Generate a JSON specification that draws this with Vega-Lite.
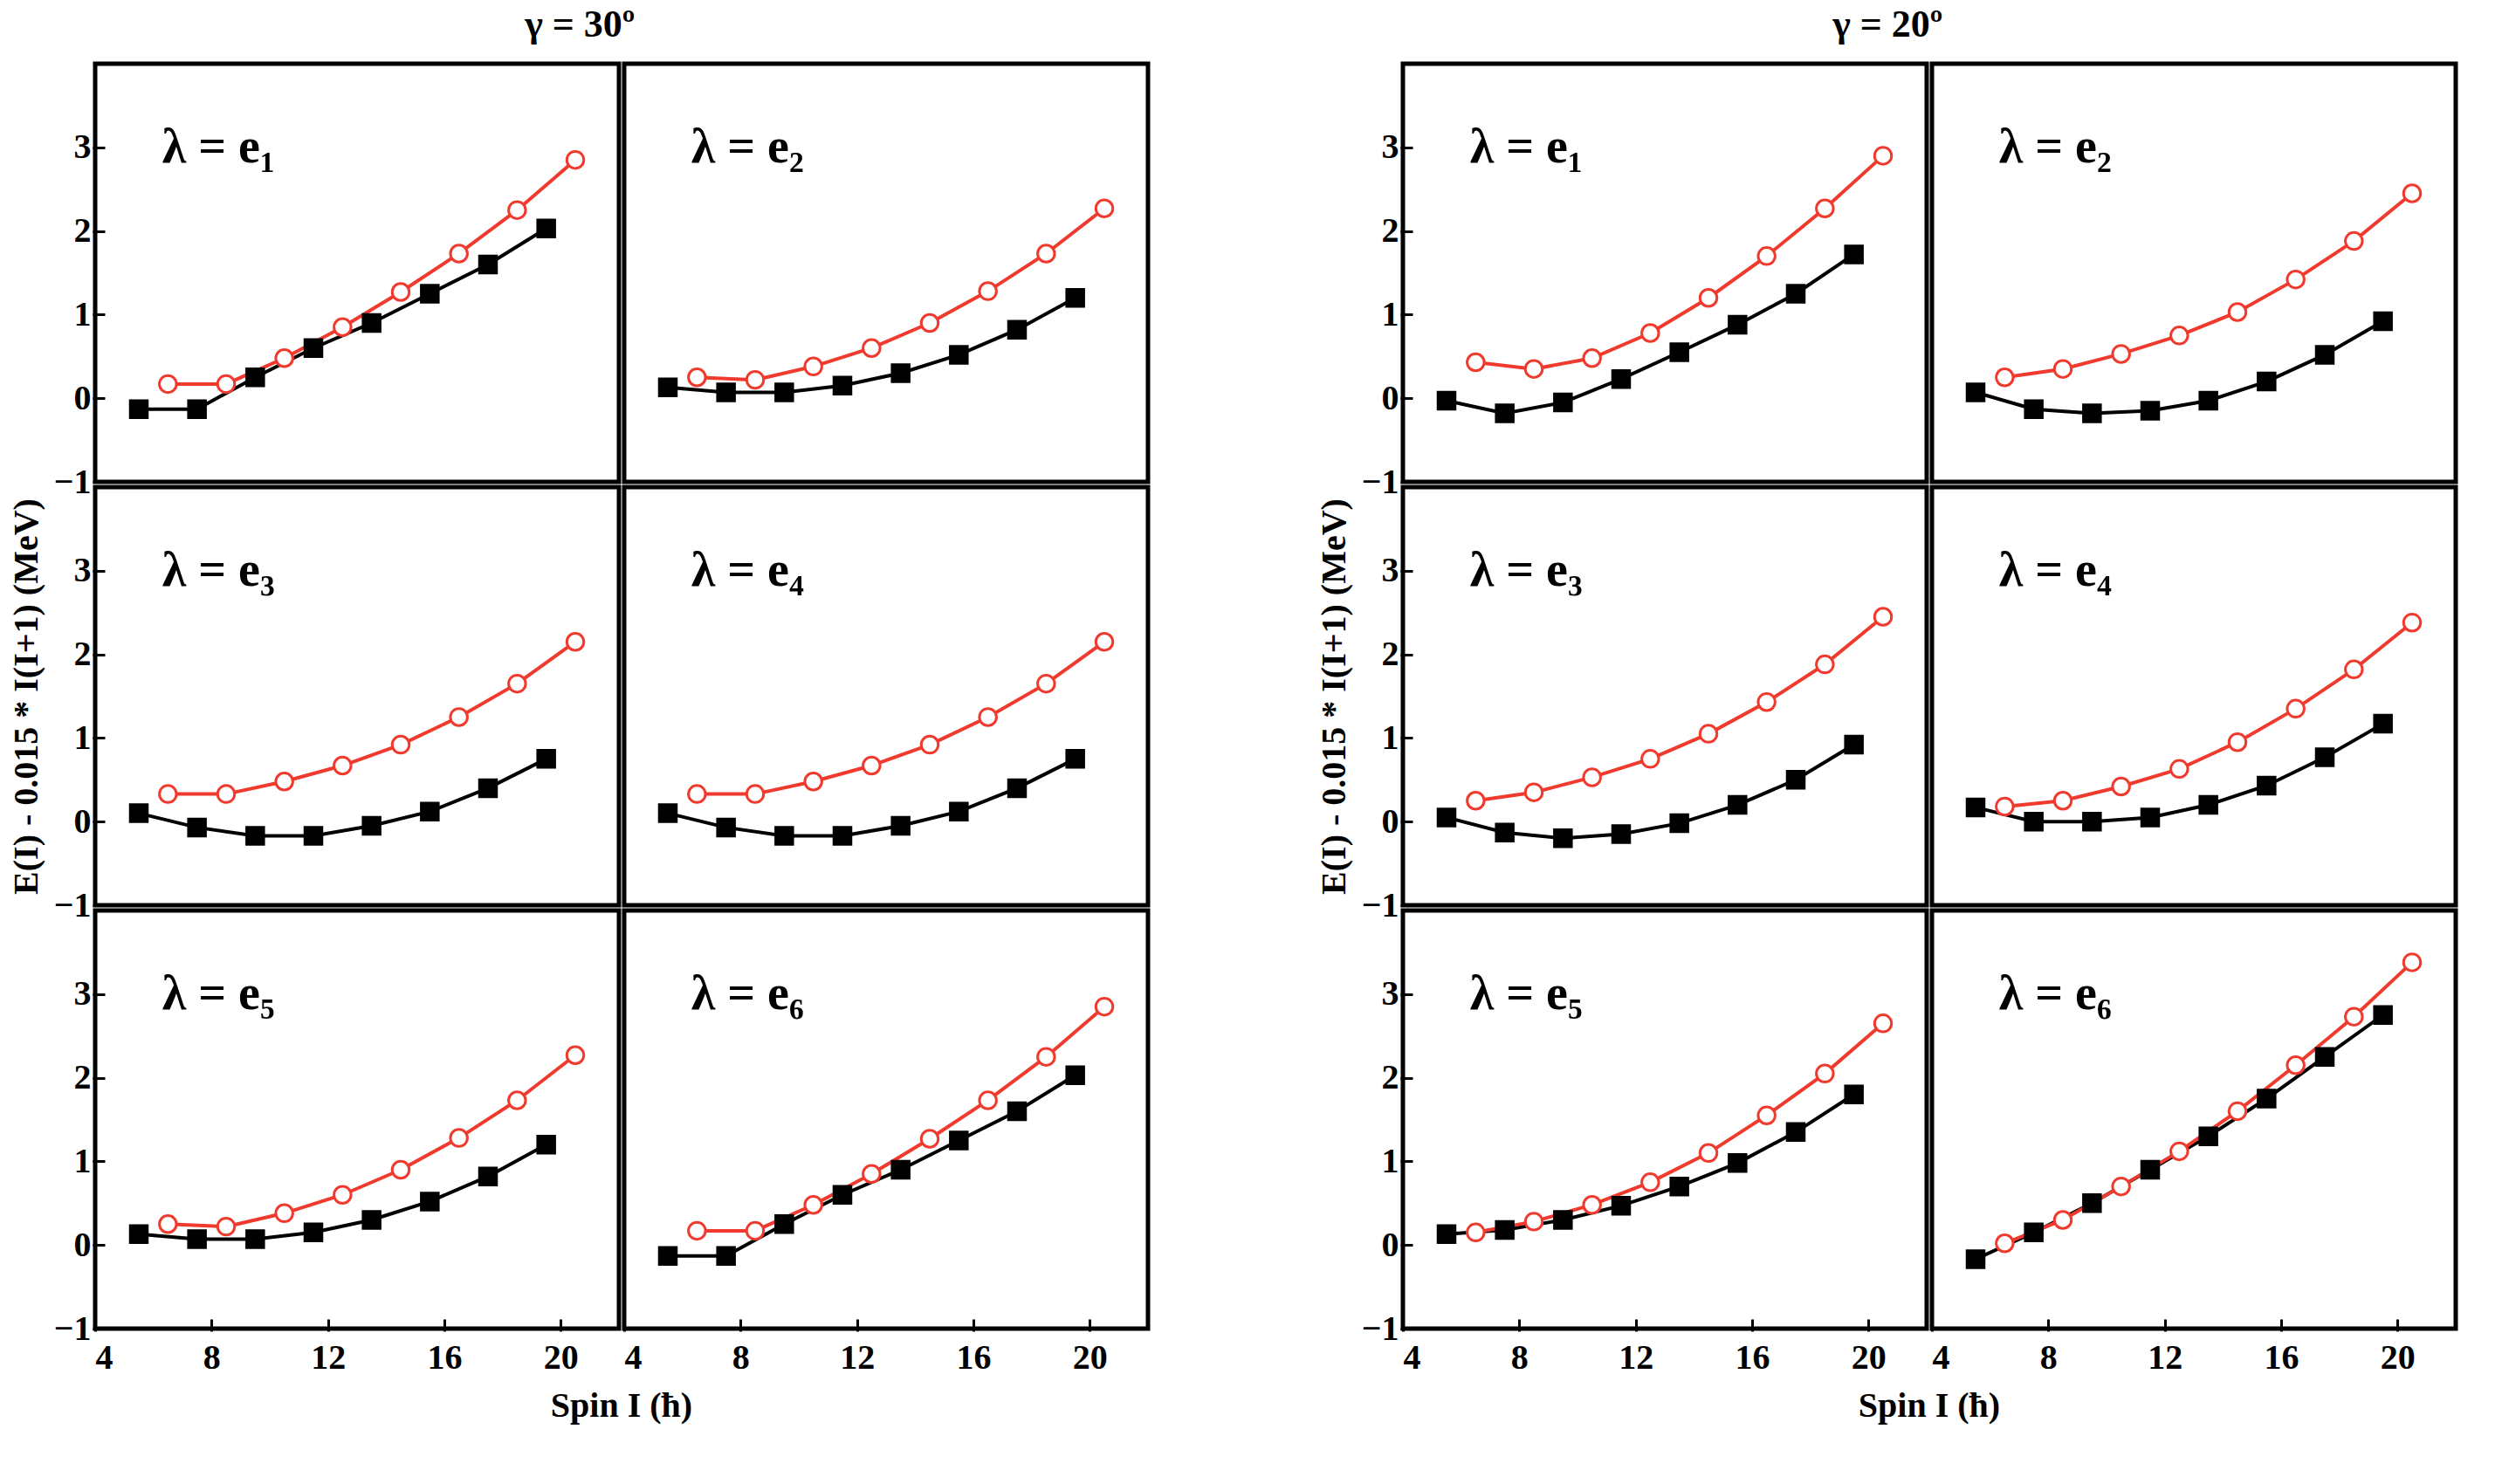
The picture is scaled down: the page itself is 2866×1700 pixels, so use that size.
{
"$schema":"https://vega.github.io/schema/vega-lite/v6.json",
"padding":{"left":10,"top":6,"right":10,"bottom":10},
"background":"white",
"config":{"font":"Liberation Serif","view":{"stroke":"black","strokeWidth":5},
 "axis":{"labelFont":"Liberation Serif","labelFontSize":40,"labelFontWeight":"bold","titleFont":"Liberation Serif","titleFontSize":40,"titleFontWeight":"bold","tickSize":-14,"tickWidth":3,"tickColor":"black","domain":false,"grid":false,"labelColor":"black","titleColor":"black","labelPadding":24},
 "header":{"titleFont":"Liberation Serif","titleFontSize":40,"titleFontWeight":"bold","titleColor":"black"},
 "title":{"font":"Liberation Serif","fontSize":44,"fontWeight":"bold","color":"black","offset":20,"anchor":"middle"}},
"data":{"values":[
{"g":30,"p":1,"s":"B1","x":5.5,"y":-0.13},{"g":30,"p":1,"s":"B1","x":7.5,"y":-0.13},{"g":30,"p":1,"s":"B1","x":9.5,"y":0.25},{"g":30,"p":1,"s":"B1","x":11.5,"y":0.6},{"g":30,"p":1,"s":"B1","x":13.5,"y":0.9},{"g":30,"p":1,"s":"B1","x":15.5,"y":1.25},{"g":30,"p":1,"s":"B1","x":17.5,"y":1.6},{"g":30,"p":1,"s":"B1","x":19.5,"y":2.03},
{"g":30,"p":1,"s":"B2","x":6.5,"y":0.17},{"g":30,"p":1,"s":"B2","x":8.5,"y":0.17},{"g":30,"p":1,"s":"B2","x":10.5,"y":0.48},{"g":30,"p":1,"s":"B2","x":12.5,"y":0.85},{"g":30,"p":1,"s":"B2","x":14.5,"y":1.27},{"g":30,"p":1,"s":"B2","x":16.5,"y":1.73},{"g":30,"p":1,"s":"B2","x":18.5,"y":2.25},{"g":30,"p":1,"s":"B2","x":20.5,"y":2.85},
{"g":30,"p":2,"s":"B1","x":5.5,"y":0.13},{"g":30,"p":2,"s":"B1","x":7.5,"y":0.07},{"g":30,"p":2,"s":"B1","x":9.5,"y":0.07},{"g":30,"p":2,"s":"B1","x":11.5,"y":0.15},{"g":30,"p":2,"s":"B1","x":13.5,"y":0.3},{"g":30,"p":2,"s":"B1","x":15.5,"y":0.52},{"g":30,"p":2,"s":"B1","x":17.5,"y":0.82},{"g":30,"p":2,"s":"B1","x":19.5,"y":1.2},
{"g":30,"p":2,"s":"B2","x":6.5,"y":0.25},{"g":30,"p":2,"s":"B2","x":8.5,"y":0.22},{"g":30,"p":2,"s":"B2","x":10.5,"y":0.38},{"g":30,"p":2,"s":"B2","x":12.5,"y":0.6},{"g":30,"p":2,"s":"B2","x":14.5,"y":0.9},{"g":30,"p":2,"s":"B2","x":16.5,"y":1.28},{"g":30,"p":2,"s":"B2","x":18.5,"y":1.73},{"g":30,"p":2,"s":"B2","x":20.5,"y":2.27},
{"g":30,"p":3,"s":"B1","x":5.5,"y":0.1},{"g":30,"p":3,"s":"B1","x":7.5,"y":-0.07},{"g":30,"p":3,"s":"B1","x":9.5,"y":-0.17},{"g":30,"p":3,"s":"B1","x":11.5,"y":-0.17},{"g":30,"p":3,"s":"B1","x":13.5,"y":-0.05},{"g":30,"p":3,"s":"B1","x":15.5,"y":0.12},{"g":30,"p":3,"s":"B1","x":17.5,"y":0.4},{"g":30,"p":3,"s":"B1","x":19.5,"y":0.75},
{"g":30,"p":3,"s":"B2","x":6.5,"y":0.33},{"g":30,"p":3,"s":"B2","x":8.5,"y":0.33},{"g":30,"p":3,"s":"B2","x":10.5,"y":0.48},{"g":30,"p":3,"s":"B2","x":12.5,"y":0.67},{"g":30,"p":3,"s":"B2","x":14.5,"y":0.92},{"g":30,"p":3,"s":"B2","x":16.5,"y":1.25},{"g":30,"p":3,"s":"B2","x":18.5,"y":1.65},{"g":30,"p":3,"s":"B2","x":20.5,"y":2.15},
{"g":30,"p":4,"s":"B1","x":5.5,"y":0.1},{"g":30,"p":4,"s":"B1","x":7.5,"y":-0.07},{"g":30,"p":4,"s":"B1","x":9.5,"y":-0.17},{"g":30,"p":4,"s":"B1","x":11.5,"y":-0.17},{"g":30,"p":4,"s":"B1","x":13.5,"y":-0.05},{"g":30,"p":4,"s":"B1","x":15.5,"y":0.12},{"g":30,"p":4,"s":"B1","x":17.5,"y":0.4},{"g":30,"p":4,"s":"B1","x":19.5,"y":0.75},
{"g":30,"p":4,"s":"B2","x":6.5,"y":0.33},{"g":30,"p":4,"s":"B2","x":8.5,"y":0.33},{"g":30,"p":4,"s":"B2","x":10.5,"y":0.48},{"g":30,"p":4,"s":"B2","x":12.5,"y":0.67},{"g":30,"p":4,"s":"B2","x":14.5,"y":0.92},{"g":30,"p":4,"s":"B2","x":16.5,"y":1.25},{"g":30,"p":4,"s":"B2","x":18.5,"y":1.65},{"g":30,"p":4,"s":"B2","x":20.5,"y":2.15},
{"g":30,"p":5,"s":"B1","x":5.5,"y":0.13},{"g":30,"p":5,"s":"B1","x":7.5,"y":0.07},{"g":30,"p":5,"s":"B1","x":9.5,"y":0.07},{"g":30,"p":5,"s":"B1","x":11.5,"y":0.15},{"g":30,"p":5,"s":"B1","x":13.5,"y":0.3},{"g":30,"p":5,"s":"B1","x":15.5,"y":0.52},{"g":30,"p":5,"s":"B1","x":17.5,"y":0.82},{"g":30,"p":5,"s":"B1","x":19.5,"y":1.2},
{"g":30,"p":5,"s":"B2","x":6.5,"y":0.25},{"g":30,"p":5,"s":"B2","x":8.5,"y":0.22},{"g":30,"p":5,"s":"B2","x":10.5,"y":0.38},{"g":30,"p":5,"s":"B2","x":12.5,"y":0.6},{"g":30,"p":5,"s":"B2","x":14.5,"y":0.9},{"g":30,"p":5,"s":"B2","x":16.5,"y":1.28},{"g":30,"p":5,"s":"B2","x":18.5,"y":1.73},{"g":30,"p":5,"s":"B2","x":20.5,"y":2.27},
{"g":30,"p":6,"s":"B1","x":5.5,"y":-0.13},{"g":30,"p":6,"s":"B1","x":7.5,"y":-0.13},{"g":30,"p":6,"s":"B1","x":9.5,"y":0.25},{"g":30,"p":6,"s":"B1","x":11.5,"y":0.6},{"g":30,"p":6,"s":"B1","x":13.5,"y":0.9},{"g":30,"p":6,"s":"B1","x":15.5,"y":1.25},{"g":30,"p":6,"s":"B1","x":17.5,"y":1.6},{"g":30,"p":6,"s":"B1","x":19.5,"y":2.03},
{"g":30,"p":6,"s":"B2","x":6.5,"y":0.17},{"g":30,"p":6,"s":"B2","x":8.5,"y":0.17},{"g":30,"p":6,"s":"B2","x":10.5,"y":0.48},{"g":30,"p":6,"s":"B2","x":12.5,"y":0.85},{"g":30,"p":6,"s":"B2","x":14.5,"y":1.27},{"g":30,"p":6,"s":"B2","x":16.5,"y":1.73},{"g":30,"p":6,"s":"B2","x":18.5,"y":2.25},{"g":30,"p":6,"s":"B2","x":20.5,"y":2.85},
{"g":20,"p":1,"s":"B1","x":5.5,"y":-0.03},{"g":20,"p":1,"s":"B1","x":7.5,"y":-0.18},{"g":20,"p":1,"s":"B1","x":9.5,"y":-0.05},{"g":20,"p":1,"s":"B1","x":11.5,"y":0.23},{"g":20,"p":1,"s":"B1","x":13.5,"y":0.55},{"g":20,"p":1,"s":"B1","x":15.5,"y":0.88},{"g":20,"p":1,"s":"B1","x":17.5,"y":1.25},{"g":20,"p":1,"s":"B1","x":19.5,"y":1.72},
{"g":20,"p":1,"s":"B2","x":6.5,"y":0.43},{"g":20,"p":1,"s":"B2","x":8.5,"y":0.35},{"g":20,"p":1,"s":"B2","x":10.5,"y":0.48},{"g":20,"p":1,"s":"B2","x":12.5,"y":0.78},{"g":20,"p":1,"s":"B2","x":14.5,"y":1.2},{"g":20,"p":1,"s":"B2","x":16.5,"y":1.7},{"g":20,"p":1,"s":"B2","x":18.5,"y":2.27},{"g":20,"p":1,"s":"B2","x":20.5,"y":2.9},
{"g":20,"p":2,"s":"B1","x":5.5,"y":0.07},{"g":20,"p":2,"s":"B1","x":7.5,"y":-0.13},{"g":20,"p":2,"s":"B1","x":9.5,"y":-0.18},{"g":20,"p":2,"s":"B1","x":11.5,"y":-0.15},{"g":20,"p":2,"s":"B1","x":13.5,"y":-0.03},{"g":20,"p":2,"s":"B1","x":15.5,"y":0.2},{"g":20,"p":2,"s":"B1","x":17.5,"y":0.52},{"g":20,"p":2,"s":"B1","x":19.5,"y":0.92},
{"g":20,"p":2,"s":"B2","x":6.5,"y":0.25},{"g":20,"p":2,"s":"B2","x":8.5,"y":0.35},{"g":20,"p":2,"s":"B2","x":10.5,"y":0.53},{"g":20,"p":2,"s":"B2","x":12.5,"y":0.75},{"g":20,"p":2,"s":"B2","x":14.5,"y":1.03},{"g":20,"p":2,"s":"B2","x":16.5,"y":1.42},{"g":20,"p":2,"s":"B2","x":18.5,"y":1.88},{"g":20,"p":2,"s":"B2","x":20.5,"y":2.45},
{"g":20,"p":3,"s":"B1","x":5.5,"y":0.05},{"g":20,"p":3,"s":"B1","x":7.5,"y":-0.13},{"g":20,"p":3,"s":"B1","x":9.5,"y":-0.2},{"g":20,"p":3,"s":"B1","x":11.5,"y":-0.15},{"g":20,"p":3,"s":"B1","x":13.5,"y":-0.02},{"g":20,"p":3,"s":"B1","x":15.5,"y":0.2},{"g":20,"p":3,"s":"B1","x":17.5,"y":0.5},{"g":20,"p":3,"s":"B1","x":19.5,"y":0.92},
{"g":20,"p":3,"s":"B2","x":6.5,"y":0.25},{"g":20,"p":3,"s":"B2","x":8.5,"y":0.35},{"g":20,"p":3,"s":"B2","x":10.5,"y":0.53},{"g":20,"p":3,"s":"B2","x":12.5,"y":0.75},{"g":20,"p":3,"s":"B2","x":14.5,"y":1.05},{"g":20,"p":3,"s":"B2","x":16.5,"y":1.43},{"g":20,"p":3,"s":"B2","x":18.5,"y":1.88},{"g":20,"p":3,"s":"B2","x":20.5,"y":2.45},
{"g":20,"p":4,"s":"B1","x":5.5,"y":0.17},{"g":20,"p":4,"s":"B1","x":7.5,"y":0.0},{"g":20,"p":4,"s":"B1","x":9.5,"y":0.0},{"g":20,"p":4,"s":"B1","x":11.5,"y":0.05},{"g":20,"p":4,"s":"B1","x":13.5,"y":0.2},{"g":20,"p":4,"s":"B1","x":15.5,"y":0.43},{"g":20,"p":4,"s":"B1","x":17.5,"y":0.77},{"g":20,"p":4,"s":"B1","x":19.5,"y":1.17},
{"g":20,"p":4,"s":"B2","x":6.5,"y":0.18},{"g":20,"p":4,"s":"B2","x":8.5,"y":0.25},{"g":20,"p":4,"s":"B2","x":10.5,"y":0.42},{"g":20,"p":4,"s":"B2","x":12.5,"y":0.63},{"g":20,"p":4,"s":"B2","x":14.5,"y":0.95},{"g":20,"p":4,"s":"B2","x":16.5,"y":1.35},{"g":20,"p":4,"s":"B2","x":18.5,"y":1.82},{"g":20,"p":4,"s":"B2","x":20.5,"y":2.38},
{"g":20,"p":5,"s":"B1","x":5.5,"y":0.13},{"g":20,"p":5,"s":"B1","x":7.5,"y":0.18},{"g":20,"p":5,"s":"B1","x":9.5,"y":0.3},{"g":20,"p":5,"s":"B1","x":11.5,"y":0.47},{"g":20,"p":5,"s":"B1","x":13.5,"y":0.7},{"g":20,"p":5,"s":"B1","x":15.5,"y":0.98},{"g":20,"p":5,"s":"B1","x":17.5,"y":1.35},{"g":20,"p":5,"s":"B1","x":19.5,"y":1.8},
{"g":20,"p":5,"s":"B2","x":6.5,"y":0.15},{"g":20,"p":5,"s":"B2","x":8.5,"y":0.28},{"g":20,"p":5,"s":"B2","x":10.5,"y":0.48},{"g":20,"p":5,"s":"B2","x":12.5,"y":0.75},{"g":20,"p":5,"s":"B2","x":14.5,"y":1.1},{"g":20,"p":5,"s":"B2","x":16.5,"y":1.55},{"g":20,"p":5,"s":"B2","x":18.5,"y":2.05},{"g":20,"p":5,"s":"B2","x":20.5,"y":2.65},
{"g":20,"p":6,"s":"B1","x":5.5,"y":-0.17},{"g":20,"p":6,"s":"B1","x":7.5,"y":0.15},{"g":20,"p":6,"s":"B1","x":9.5,"y":0.5},{"g":20,"p":6,"s":"B1","x":11.5,"y":0.9},{"g":20,"p":6,"s":"B1","x":13.5,"y":1.3},{"g":20,"p":6,"s":"B1","x":15.5,"y":1.75},{"g":20,"p":6,"s":"B1","x":17.5,"y":2.25},{"g":20,"p":6,"s":"B1","x":19.5,"y":2.75},
{"g":20,"p":6,"s":"B2","x":6.5,"y":0.02},{"g":20,"p":6,"s":"B2","x":8.5,"y":0.3},{"g":20,"p":6,"s":"B2","x":10.5,"y":0.7},{"g":20,"p":6,"s":"B2","x":12.5,"y":1.12},{"g":20,"p":6,"s":"B2","x":14.5,"y":1.6},{"g":20,"p":6,"s":"B2","x":16.5,"y":2.15},{"g":20,"p":6,"s":"B2","x":18.5,"y":2.73},{"g":20,"p":6,"s":"B2","x":20.5,"y":3.38}
]},
"transform":[
 {"calculate":"floor((datum.p-1)/2)","as":"r"},
 {"calculate":"(datum.p-1)%2","as":"c"},
 {"calculate":"'λ = e' + ['₁','₂','₃','₄','₅','₆'][datum.p-1]","as":"lab"}
],
"spacing":190,
"hconcat":[
 {"title":"γ = 30º","transform":[{"filter":"datum.g==30"}],
  "facet":{"row":{"field":"r","type":"ordinal","title":"E(I) - 0.015 * I(I+1) (MeV)","header":{"labels":false,"titlePadding":0}},"column":{"field":"c","type":"ordinal","title":"Spin I (ħ)","header":{"labels":false,"titleOrient":"bottom","labelOrient":"bottom","titlePadding":6}}},
  "spacing":0,
  "spec":{"width":600,"height":479,"layer":[
   {"mark":{"type":"line","strokeWidth":4},"encoding":{
     "x":{"field":"x","type":"quantitative","scale":{"domain":[4,22]},"axis":{"values":[4,8,12,16,20],"format":"d","title":null}},
     "y":{"field":"y","type":"quantitative","scale":{"domain":[-1,4]},"axis":{"values":[-1,0,1,2,3],"format":"d","title":null,"labelPadding":16}},
     "color":{"field":"s","type":"nominal","scale":{"domain":["B1","B2"],"range":["black","#f03a2e"]},"legend":null}}},
   {"mark":{"type":"point","size":380,"strokeWidth":3,"opacity":1},"encoding":{
     "x":{"field":"x","type":"quantitative"},"y":{"field":"y","type":"quantitative"},
     "color":{"field":"s","type":"nominal","scale":{"domain":["B1","B2"],"range":["black","#d4202a"]},"legend":null},
     "shape":{"field":"s","type":"nominal","scale":{"domain":["B1","B2"],"range":["square","circle"]},"legend":null},
     "fill":{"field":"s","type":"nominal","scale":{"domain":["B1","B2"],"range":["black","white"]},"legend":null}}},
   {"transform":[{"filter":"datum.s=='B1' && datum.x==5.5"}],"mark":{"type":"text","align":"left","baseline":"middle","fontSize":56,"fontWeight":"bold","font":"Liberation Serif"},
    "encoding":{"x":{"datum":6.3},"y":{"datum":3.0},"text":{"field":"lab"}}}
  ]}},
 {"title":"γ = 20º","transform":[{"filter":"datum.g==20"}],
  "facet":{"row":{"field":"r","type":"ordinal","title":"E(I) - 0.015 * I(I+1) (MeV)","header":{"labels":false,"titlePadding":0}},"column":{"field":"c","type":"ordinal","title":"Spin I (ħ)","header":{"labels":false,"titleOrient":"bottom","labelOrient":"bottom","titlePadding":6}}},
  "spacing":0,
  "spec":{"width":600,"height":479,"layer":[
   {"mark":{"type":"line","strokeWidth":4},"encoding":{
     "x":{"field":"x","type":"quantitative","scale":{"domain":[4,22]},"axis":{"values":[4,8,12,16,20],"format":"d","title":null}},
     "y":{"field":"y","type":"quantitative","scale":{"domain":[-1,4]},"axis":{"values":[-1,0,1,2,3],"format":"d","title":null,"labelPadding":16}},
     "color":{"field":"s","type":"nominal","scale":{"domain":["B1","B2"],"range":["black","#f03a2e"]},"legend":null}}},
   {"mark":{"type":"point","size":380,"strokeWidth":3,"opacity":1},"encoding":{
     "x":{"field":"x","type":"quantitative"},"y":{"field":"y","type":"quantitative"},
     "color":{"field":"s","type":"nominal","scale":{"domain":["B1","B2"],"range":["black","#d4202a"]},"legend":null},
     "shape":{"field":"s","type":"nominal","scale":{"domain":["B1","B2"],"range":["square","circle"]},"legend":null},
     "fill":{"field":"s","type":"nominal","scale":{"domain":["B1","B2"],"range":["black","white"]},"legend":null}}},
   {"transform":[{"filter":"datum.s=='B1' && datum.x==5.5"}],"mark":{"type":"text","align":"left","baseline":"middle","fontSize":56,"fontWeight":"bold","font":"Liberation Serif"},
    "encoding":{"x":{"datum":6.3},"y":{"datum":3.0},"text":{"field":"lab"}}}
  ]}}
]
}
